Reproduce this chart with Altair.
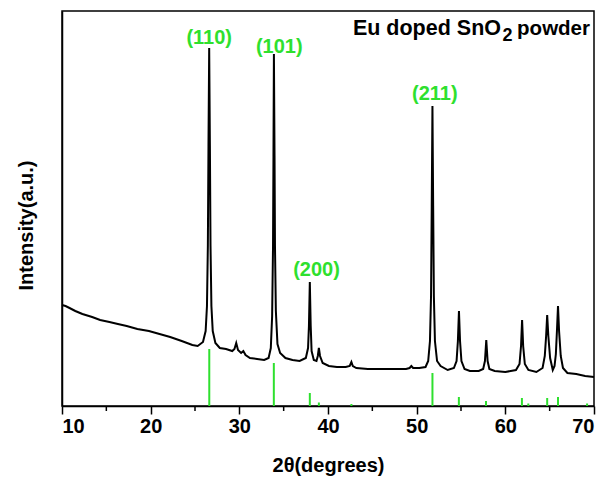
import altair as alt
import pandas as pd

# XRD pattern (2theta in degrees, intensity in arbitrary units)
two_theta = [10.0, 10.4, 10.85, 11.5, 12.3, 13.4, 14.3, 15.35, 16.3, 17.3, 18.5, 19.8, 21.0, 22.2, 23.5, 24.7, 25.3,
             25.9, 26.2, 26.35, 26.45, 26.52, 26.6, 26.68, 26.75, 26.85, 27.0, 27.3, 27.8, 28.5,
             29.2, 29.45, 29.65, 29.85, 30.2, 30.45, 30.7, 31.2, 32.0, 32.8, 33.3, 33.55, 33.7, 33.8, 33.85,
             33.9, 33.97, 34.02, 34.12, 34.3, 34.6, 35.2, 36.0, 36.8, 37.5, 37.75, 37.85, 37.95, 38.05, 38.15,
             38.4, 38.7, 38.85, 38.97, 39.1, 39.4, 40.1, 41.0, 42.0, 42.45, 42.64, 42.8, 43.2, 44.5, 46.0,
             47.5, 48.8, 49.2, 49.4, 49.6, 50.3, 51.0, 51.3, 51.5, 51.62, 51.7, 51.78, 51.86, 51.94, 52.06,
             52.3, 52.7, 53.5, 54.2, 54.5, 54.65, 54.77, 54.89, 55.05, 55.4, 56.0, 57.0, 57.5, 57.7, 57.85,
             58.0, 58.2, 58.8, 60.0, 61.2, 61.6, 61.77, 61.89, 62.01, 62.2, 62.6, 63.5, 64.2, 64.45, 64.6,
             64.72, 64.85, 65.05, 65.35, 65.55, 65.7, 65.82, 65.94, 66.06, 66.25, 66.5, 67.0, 68.0, 69.0, 70.0]
intensity = [101, 100, 98, 95, 92, 89, 86, 84, 82, 80, 77, 75, 72, 69, 65, 61, 60,
             64, 75, 100, 160, 260, 358, 260, 160, 100, 75, 63, 58, 57,
             55, 57, 63, 56, 53, 55, 51, 48, 47, 46, 48, 58, 90, 160, 250,
             352, 250, 160, 95, 62, 53, 48, 46, 45, 48, 58, 80, 124, 80, 55,
             46, 45, 50, 58, 50, 43, 40, 39, 39, 40, 44, 40, 38, 37, 37,
             37, 37, 38, 40, 38, 38, 39, 45, 65, 110, 200, 300, 200, 110, 65,
             45, 40, 36, 38, 45, 65, 95, 65, 45, 37, 35, 35, 37, 45, 66,
             45, 37, 35, 34, 36, 42, 60, 86, 60, 42, 36, 34, 38, 50, 70,
             91, 70, 48, 36, 40, 52, 75, 100, 75, 50, 38, 33, 32, 30, 29]

# Reference (standard) line positions and relative heights
ref_pos = [26.61, 33.89, 37.95, 38.97, 42.64, 51.78, 54.76, 57.82, 61.87, 62.59, 64.72, 65.94, 69.22]
ref_height = [57, 43, 13, 3.5, 2, 33, 9, 5, 8, 2.5, 8, 9, 2.5]

# Peak labels
label_text = ["(110)", "(101)", "(200)", "(211)"]
label_x = [26.6, 34.5, 38.7, 52.05]
label_y = [362, 353, 130, 306]

major_ticks = [10, 20, 30, 40, 50, 60, 70]
minor_ticks = [15, 25, 35, 45, 55, 65]

FONT = "Liberation Sans"
GREEN = "#2ee02e"

curve = pd.DataFrame({"two_theta": two_theta, "intensity": intensity})
refs = pd.DataFrame({"pos": ref_pos, "h": ref_height, "zero": [0] * len(ref_pos)})
labels = pd.DataFrame({"text": label_text, "x": label_x, "y": label_y})
minor = pd.DataFrame({"m": minor_ticks})
one = pd.DataFrame({"a": [0]})

xscale = alt.Scale(domain=[10, 70], nice=False, zero=False)
yscale = alt.Scale(domain=[0, 395], nice=False)

line = alt.Chart(curve).mark_line(color="black", strokeWidth=2).encode(
    x=alt.X("two_theta:Q", scale=xscale,
            axis=alt.Axis(title="2θ(degrees)", values=major_ticks, format="d",
                          tickSize=8, tickWidth=1.5, labelPadding=2, titlePadding=19)),
    y=alt.Y("intensity:Q", scale=yscale,
            axis=alt.Axis(title="Intensity(a.u.)", labels=False, ticks=False, grid=False,
                          titlePadding=26, titleY=214)),
)

sticks = alt.Chart(refs).mark_rule(color=GREEN, strokeWidth=2).encode(
    x=alt.X("pos:Q", scale=xscale),
    y=alt.Y("zero:Q", scale=yscale),
    y2="h:Q",
)

minor_rules = alt.Chart(minor).mark_rule(color="black", strokeWidth=1.5).encode(
    x=alt.X("m:Q", scale=xscale),
    y=alt.value(395),
    y2=alt.value(400),
)

peak_labels = alt.Chart(labels).mark_text(
    color=GREEN, font=FONT, fontWeight="bold", fontSize=20, baseline="alphabetic", align="center"
).encode(
    x=alt.X("x:Q", scale=xscale),
    y=alt.Y("y:Q", scale=yscale),
    text="text:N",
)

t1 = alt.Chart(one).mark_text(font=FONT, fontWeight="bold", fontSize=21.5, color="black",
                              align="right", baseline="alphabetic").encode(
    x=alt.value(439), y=alt.value(24), text=alt.value("Eu doped SnO"))
t2 = alt.Chart(one).mark_text(font=FONT, fontWeight="bold", fontSize=18, color="black",
                              align="left", baseline="alphabetic").encode(
    x=alt.value(440.5), y=alt.value(29.5), text=alt.value("2"))
t3 = alt.Chart(one).mark_text(font=FONT, fontWeight="bold", fontSize=20.5, color="black",
                              align="right", baseline="alphabetic").encode(
    x=alt.value(528), y=alt.value(24), text=alt.value("powder"))

chart = alt.layer(sticks, line, minor_rules, peak_labels, t1, t2, t3).properties(
    width=532, height=395,
    autosize=alt.AutoSizeParams(type="none"),
    padding={"left": 62, "top": 11, "right": 11, "bottom": 78},
    background="white",
).configure_view(
    stroke="black", strokeWidth=1.5
).configure_axis(
    domainColor="black", domainWidth=1.5, tickColor="black", grid=False,
    labelFont=FONT, labelFontWeight="bold", labelFontSize=20, labelColor="black",
    titleFont=FONT, titleFontWeight="bold", titleFontSize=20, titleColor="black",
)

chart.save("out.html", embed_options={"renderer": "svg", "actions": False})
